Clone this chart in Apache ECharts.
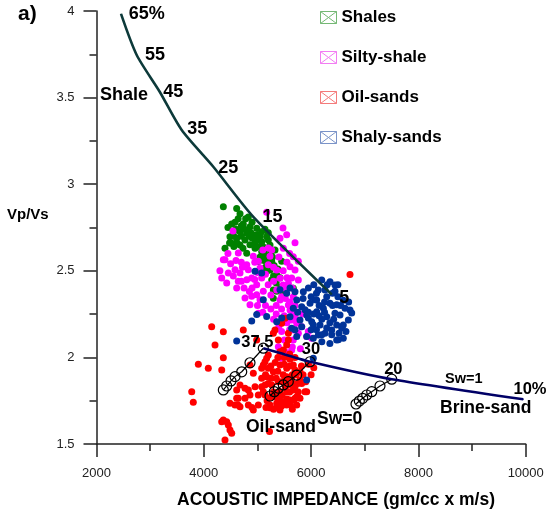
<!DOCTYPE html>
<html>
<head>
<meta charset="utf-8">
<script src="https://cdn.jsdelivr.net/npm/echarts@6/dist/echarts.min.js"></script>
<style>
  html, body { margin: 0; padding: 0; background: #fff; }
  #chart { width: 549px; height: 511px; }
</style>
</head>
<body>
<div id="chart"></div>
<script>
// Vp/Vs versus acoustic impedance for the four lithologies,
// with the shale and brine-sand trend lines and fluid substitution paths.

const seriesNames = ['Shales', 'Silty-shale', 'Oil-sands', 'Shaly-sands'];

const shales = [
  [4364,2.870],[4613,2.860],[4675,2.830],[4830,2.810],[4582,2.780],[4736,2.770],[4861,2.755],
  [4986,2.745],[5079,2.726],[4550,2.726],[4675,2.726],[4800,2.717],[4923,2.707],[5172,2.697],
  [4488,2.697],[4613,2.688],[4768,2.678],[4986,2.678],[5079,2.668],[5202,2.678],[4520,2.659],
  [4395,2.630],[4675,2.649],[4800,2.601],[4955,2.630],[5079,2.610],[5234,2.649],[5327,2.620],
  [5172,2.581],[5016,2.553],[5266,2.553],[5234,2.505],[5359,2.476],[5266,2.447],[5452,2.408],
  [5296,2.389],[5420,2.400],[5482,2.370],[5296,2.341],[5668,2.399],[5202,2.720],[5140,2.740],
  [5172,2.497],[5452,2.555],[5359,2.382],[4700,2.760],[4900,2.780],[4640,2.800],[4950,2.660],
  [5100,2.640],[4850,2.700],[5050,2.700],[4730,2.630],[5130,2.600],[5280,2.580],[5310,2.530],
  [5380,2.510],[5420,2.460],[5200,2.550],[4560,2.640],[4450,2.750],[4520,2.770],[4600,2.740],
  [4760,2.740],[4820,2.730],[4880,2.720],[4700,2.700],[4900,2.690],[5000,2.710],[4560,2.700],
  [4620,2.660],[4860,2.650],[5000,2.640],[5180,2.630],[5050,2.580],[5120,2.560],[5250,2.600],
  [5150,2.520],[5300,2.470],[5350,2.430],[4480,2.660],[4780,2.800]
];

const siltyShale = [
  [4364,2.564],[4334,2.458],[4457,2.487],[4582,2.506],[4675,2.487],[4427,2.430],[4613,2.401],
  [4643,2.439],[4800,2.535],[4830,2.506],[4893,2.458],[4800,2.449],[4768,2.343],[4893,2.353],
  [4986,2.362],[4861,2.304],[4643,2.603],[4923,2.584],[5016,2.555],[5048,2.516],[5079,2.458],
  [4986,2.420],[5109,2.382],[5048,2.333],[5202,2.632],[5234,2.584],[5202,2.535],[4395,2.564],
  [4544,2.730],[5420,2.688],[5700,2.662],[5482,2.630],[5668,2.581],[5607,2.524],[5700,2.505],
  [5762,2.447],[5576,2.428],[5420,2.457],[5359,2.389],[5668,2.350],[5420,2.331],[5576,2.303],
  [5607,2.274],[5700,2.235],[5732,2.197],[5825,2.177],[5668,2.158],[5762,2.139],[5918,2.120],
  [5016,2.255],[6011,2.110],[5452,1.995],[5638,2.043],[5514,2.033],[5389,2.062],[5668,2.100],
  [5638,2.216],[5266,2.620],[5359,2.505],[5476,2.418],[5545,2.708],[5476,2.747],[5762,2.555],
  [5638,2.458],[5668,2.266],[5762,2.208],[5948,2.150],[5172,2.838],[5100,2.620],[5150,2.480],
  [5300,2.440],[5000,2.490],[4950,2.450],[4720,2.520],[4900,2.400],[5200,2.420],[5250,2.360],
  [5350,2.300],[5450,2.280],[5500,2.240],[5550,2.200],[5600,2.160],[5520,2.340],[5150,2.300],
  [5300,2.220],[5400,2.180],[4500,2.540],[4600,2.560],[4700,2.550],[4550,2.470],[4700,2.440],
  [4750,2.400],[4850,2.380],[5000,2.300],[5100,2.260],[5250,2.280],[5350,2.250],[5450,2.350],
  [5500,2.400],[5550,2.460],[5480,2.500],[5550,2.550],[5400,2.580],[5600,2.600],[5650,2.400],
  [5700,2.300],[5600,2.320],[5450,2.150],[5500,2.100],[5650,2.060],[5800,2.050],[5850,2.250],
  [4950,2.550],[5300,2.520],[4300,2.500],[4450,2.600]
];

const oilSands = [
  [4147,2.177],[4364,2.148],[4209,2.071],[4736,2.158],[4986,2.100],[3898,1.960],[4084,1.937],
  [4364,1.998],[4334,1.927],[3775,1.802],[3804,1.741],[4643,1.764],[4768,1.764],[4861,1.783],
  [5016,1.783],[4830,1.725],[4675,1.715],[4923,1.696],[5016,1.725],[5141,1.783],[5141,1.841],
  [5079,1.831],[5172,1.889],[5079,1.879],[4334,1.629],[4427,1.629],[4488,1.581],[4520,1.562],
  [4395,1.523],[4582,1.725],[4488,1.735],[4861,1.956],[5079,1.937],[5141,1.975],[4613,1.812],
  [4675,1.841],[4830,1.812],[5225,1.572],[4898,1.711],[5159,1.711],[5355,1.711],[5420,1.742],
  [5616,1.725],[5681,1.754],[4638,1.725],[5327,2.158],[5389,2.100],[5576,2.100],[5482,2.043],
  [5172,1.995],[5109,1.956],[5202,1.937],[5296,1.917],[5420,1.956],[5545,1.937],[5668,1.956],
  [5793,1.917],[5638,1.879],[5514,1.869],[5389,1.859],[5266,1.841],[5109,1.802],[5420,1.802],
  [5545,1.802],[5668,1.812],[5732,1.773],[5607,1.754],[5482,1.744],[5359,1.735],[5234,1.725],
  [5732,1.725],[5825,1.850],[5918,1.802],[5545,2.071],[5420,2.033],[5607,1.989],[5700,1.927],
  [5545,1.889],[5668,1.850],[5700,1.764],[5420,1.696],[5234,1.709],[4955,1.831],[4923,1.908],
  [5202,2.014],[4768,1.822],[4613,1.764],[4364,1.639],[4457,1.610],[5793,1.869],[5793,1.764],
  [5886,1.802],[5545,1.725],[5514,2.226],[5576,2.139],[5452,2.197],[5296,2.139],[6725,2.479],
  [5300,1.800],[5350,1.880],[5460,1.780],[5480,1.900],[5580,1.840],[5650,1.900],[5750,1.850],
  [5500,1.960],[5600,2.020],[5700,2.000],[5260,1.880],[5400,1.760],[5550,1.760],[5650,1.700],
  [5300,1.700],[6000,1.900],[6050,1.940],[5950,1.960],[5250,1.950],[5330,1.970],[5380,1.920],
  [5450,1.860],[5520,1.830],[5600,1.800],[5620,1.880],[5720,1.900],[5760,1.800],[5850,1.900],
  [5900,1.860],[5350,1.770],[5450,1.720],[5250,1.770],[5180,1.750],[5600,1.950],[5500,2.000],
  [5380,2.000],[5820,1.950],[5700,1.830],[5150,1.900],[5200,1.850]
];

const shalySands = [
  [4955,2.497],[5079,2.487],[5109,2.333],[4986,2.247],[5172,2.236],[4613,2.095],[4893,2.210],
  [6041,1.995],[5918,1.870],[5359,2.206],[5545,2.370],[5700,2.379],[5855,2.379],[5732,2.331],
  [5825,2.293],[5668,2.284],[5607,2.235],[5793,2.216],[5918,2.245],[5980,2.312],[6104,2.331],
  [6134,2.389],[6259,2.389],[6291,2.350],[6352,2.312],[6228,2.284],[6104,2.264],[6011,2.206],
  [6166,2.187],[6291,2.235],[6445,2.255],[6539,2.245],[6477,2.187],[6384,2.158],[6259,2.139],
  [6134,2.129],[6041,2.110],[5918,2.120],[5825,2.177],[6600,2.187],[6694,2.216],[6725,2.274],
  [6632,2.284],[6500,2.420],[6445,2.418],[6352,2.437],[6198,2.447],[6600,2.110],[6477,2.100],
  [5732,2.120],[5638,2.168],[5420,2.391],[5607,2.401],[6445,2.382],[6073,2.333],[6477,2.304],
  [6757,2.256],[5452,2.227],[5886,2.275],[5948,2.227],[6041,2.189],[6198,2.131],[6291,2.170],
  [6570,2.170],[6384,2.131],[6508,2.102],[6000,2.350],[6150,2.300],[6350,2.200],[6550,2.300],
  [6200,2.220],[5950,2.260],[6400,2.370],[6050,2.250],[5950,2.400],[6050,2.420],[6300,2.420],
  [6400,2.300],[6500,2.350],[6600,2.330],[6700,2.320],[6100,2.370],[6250,2.320],[6150,2.240],
  [6250,2.260],[6420,2.220],[6520,2.140],[6650,2.150],[6350,2.080],[6200,2.090],[5850,2.340],
  [5750,2.260],[5700,2.160],[6000,2.160],[6100,2.160]
];

// shale trend, labelled by clay content (%)
const shaleTrend = [[2457,3.983],[2749,3.746],[3178,3.534],[3588,3.313],[4177,3.101],[4923,2.812],[6384,2.364]];
const shaleTrendLabels = ['65%', '55', '45', '35', '25', '15', '5'];

// brine-sand trend, labelled by porosity (%)
const brineTrend = [[5109,2.053],[5421,2.025],[5980,1.975],[7503,1.874],[9955,1.758]];
const brineTrendLabels = ['37.5', '', '30', '20', '10%'];

// fluid substitution paths (Sw=1 on the brine trend down to Sw=0)
const subst375 = [[5109,2.053],[4861,1.969],[4707,1.917],[4582,1.889],[4507,1.864],[4427,1.835],[4364,1.812]];
const subst30  = [[5980,1.975],[5732,1.898],[5575,1.860],[5482,1.841],[5389,1.822],[5314,1.802],[5234,1.777]];
const subst20  = [[7503,1.874],[7284,1.835],[7130,1.802],[7037,1.783],[6962,1.764],[6899,1.748],[6837,1.731]];

const FONT = '"Liberation Sans", Arial, Helvetica, sans-serif';
const dotColors = ['#008000', '#ff00ff', '#ff0000', '#003399'];
const legendColors = ['#74b874', '#f27cf2', '#f47a7a', '#7a93c8'];
const envelope = 'path://M0,0H16V12H0Z M0,0L16,12 M16,0L0,12';

// label placement around the trend-line vertices (pixels)
const shaleLabelOffsets = [[25.7,0],[18.3,0],[13.6,0],[15.6,-0.8],[15,1.6],[19.2,0.3],[12.5,3.2]];
const brineLabelOffsets = [[-6,-5.5],[0,0],[1,-12.5],[1.6,-10],[6.7,-10]];

function labelled(points, labels, offsets, size) {
  return points.map((p, i) => ({
    value: p,
    label: {
      show: labels[i] !== '',
      formatter: labels[i],
      position: 'inside',
      offset: offsets[i],
      color: '#000',
      fontFamily: FONT,
      fontWeight: 'bold',
      fontSize: size
    }
  }));
}

const scatterSets = [shales, siltyShale, oilSands, shalySands];

const series = scatterSets.map((d, i) => ({
  name: seriesNames[i],
  type: 'scatter',
  data: d,
  symbol: 'circle',
  symbolSize: 7,
  itemStyle: { color: dotColors[i], opacity: 1 },
  z: 2
}));

series.push({
  type: 'line',
  data: labelled(shaleTrend, shaleTrendLabels, shaleLabelOffsets, 18),
  smooth: 0.25,
  symbol: 'circle',
  symbolSize: 1,
  showSymbol: true,
  itemStyle: { color: '#0d3a3a' },
  lineStyle: { color: '#0d3a3a', width: 2.6 },
  z: 3
});

[subst375, subst30, subst20].forEach(d => {
  series.push({
    type: 'line',
    data: d,
    symbol: 'circle',
    symbolSize: 10,
    showSymbol: true,
    itemStyle: { color: 'rgba(0,0,0,0)', borderColor: '#000', borderWidth: 1.2 },
    lineStyle: { color: '#000', width: 1.2 },
    z: 4
  });
});

series.push({
  type: 'line',
  data: labelled(brineTrend, brineTrendLabels, brineLabelOffsets, 16.5),
  smooth: 0.2,
  symbol: 'circle',
  symbolSize: 1,
  showSymbol: true,
  itemStyle: { color: '#000066' },
  lineStyle: { color: '#000066', width: 2.6 },
  z: 5
});

function note(text, x, y, size, align) {
  return {
    type: 'text',
    x: x, y: y,
    z: 10,
    style: {
      text: text,
      font: 'bold ' + size + 'px ' + FONT,
      fill: '#000',
      align: align || 'left',
      verticalAlign: 'middle'
    }
  };
}

const lineColor = '#222';
const tickLabel = { color: '#222', fontFamily: FONT, fontSize: 13 };

// labelled axes carry the long ticks; companion axes add the short in-between ticks
function majorAxis(extra) {
  return Object.assign({
    type: 'value',
    axisLine: { show: true, lineStyle: { color: lineColor, width: 1.5 } },
    axisTick: { show: true, inside: false, length: 13, lineStyle: { color: lineColor, width: 1.5 } },
    splitLine: { show: false }
  }, extra);
}
function minorAxis(extra) {
  return Object.assign({
    type: 'value',
    axisLine: { show: false },
    axisTick: { show: true, inside: false, length: 7, lineStyle: { color: lineColor, width: 1.5 } },
    axisLabel: { show: false },
    splitLine: { show: false }
  }, extra);
}

const chart = echarts.init(document.getElementById('chart'), null, { renderer: 'canvas' });
chart.setOption({
  animation: false,
  backgroundColor: '#fff',
  grid: { left: 96.5, right: 23.3, top: 11, bottom: 67, containLabel: false },
  xAxis: [
    majorAxis({
      position: 'bottom', min: 2000, max: 10000, interval: 2000,
      axisLabel: Object.assign({ margin: 23, formatter: v => String(v) }, tickLabel)
    }),
    minorAxis({ position: 'bottom', offset: 0, min: 2000, max: 10000, interval: 1000 })
  ],
  yAxis: [
    majorAxis({
      position: 'left', min: 1.5, max: 4, interval: 0.5,
      axisLabel: Object.assign({ margin: 22, formatter: v => String(v) }, tickLabel)
    }),
    minorAxis({ position: 'left', offset: 0, min: 1.5, max: 4, interval: 0.25 })
  ],
  legend: {
    orient: 'vertical',
    left: 320, top: 9,
    itemWidth: 16, itemHeight: 12, itemGap: 23,
    padding: 0,
    selectedMode: false,
    textStyle: { fontFamily: FONT, fontWeight: 'bold', fontSize: 17, color: '#000' },
    data: seriesNames.map((n, i) => ({
      name: n,
      icon: envelope,
      itemStyle: { color: 'rgba(0,0,0,0)', borderColor: legendColors[i], borderWidth: 1 }
    }))
  },
  graphic: [
    note('a)', 18, 14, 21),
    note('Vp/Vs', 7, 215, 15),
    note('ACOUSTIC IMPEDANCE (gm/cc x m/s)', 336, 500, 17.5, 'center'),
    note('Shale', 100, 95.5, 18),
    note('Oil-sand', 246, 427.5, 17.5),
    note('Sw=0', 317, 419, 17.5),
    note('Sw=1', 445, 379, 14.5),
    note('Brine-sand', 440, 408.5, 17.5)
  ],
  series: series
});
</script>
</body>
</html>
